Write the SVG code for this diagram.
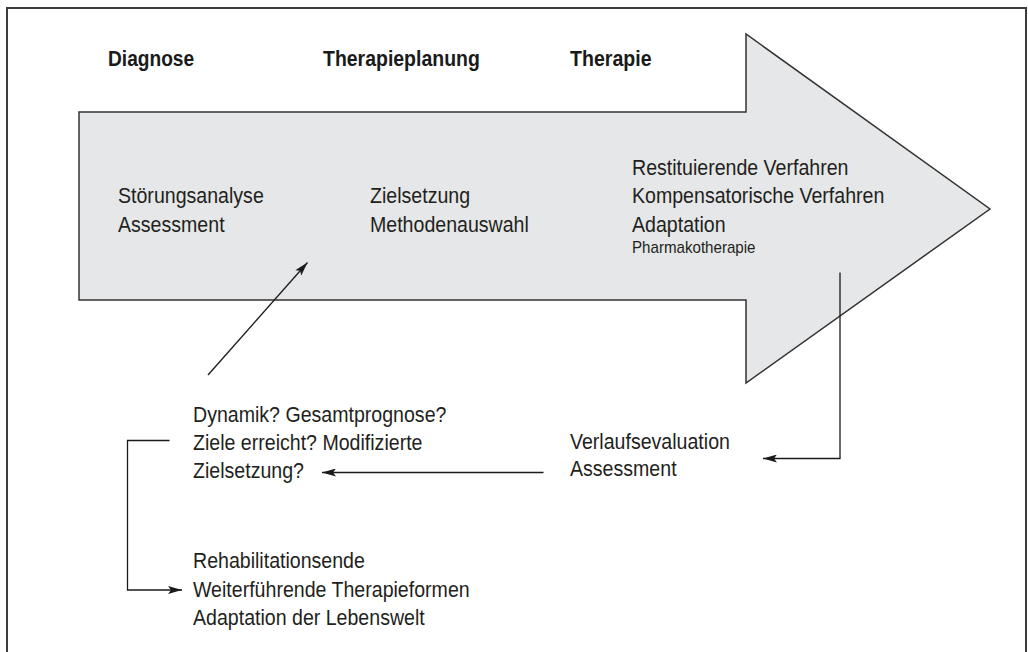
<svg xmlns="http://www.w3.org/2000/svg" width="1028" height="652" viewBox="0 0 1028 652">
  <style>
    .t { font-family: "Liberation Sans", Arial, sans-serif; font-size: 22px; fill: #231f20; }
    .h { font-family: "Liberation Sans", Arial, sans-serif; font-size: 22px; font-weight: bold; fill: #1a1a1a; }
    .s { font-size: 17px; }
    .c { fill: none; stroke: #1a1a1a; stroke-width: 1.3; }
  </style>
  <defs>
    <marker id="ah" markerUnits="userSpaceOnUse" markerWidth="14" markerHeight="8" refX="14" refY="4" orient="auto">
      <path d="M0,0 L14,4 L0,8 L3,4 z" fill="#1a1a1a"/>
    </marker>
  </defs>
  <rect x="0" y="0" width="1028" height="652" fill="#ffffff"/>
  <rect id="frame" x="7" y="8" width="1019" height="670" fill="none" stroke="#3c3c3c" stroke-width="2"/>

  <g id="bigarrow">
    <polygon points="79,112 746,112 746,34 990,209 746,383 746,300 79,300" fill="#e6e7e8" stroke="#333333" stroke-width="1.5" stroke-linejoin="miter"/>
  </g>

  <g id="heading-diagnose" transform="translate(108,66) scale(0.87,1)">
    <text class="h" x="0" y="0">Diagnose</text>
  </g>
  <g id="heading-therapieplanung" transform="translate(323,66) scale(0.885,1)">
    <text class="h" x="0" y="0">Therapieplanung</text>
  </g>
  <g id="heading-therapie" transform="translate(570,66) scale(0.89,1)">
    <text class="h" x="0" y="0">Therapie</text>
  </g>

  <g id="node-diagnose" transform="translate(118,203) scale(0.89,1)">
    <text class="t"><tspan x="0" y="0">Störungsanalyse</tspan><tspan x="0" y="29">Assessment</tspan></text>
  </g>
  <g id="node-planung" transform="translate(370,203) scale(0.89,1)">
    <text class="t"><tspan x="0" y="0">Zielsetzung</tspan><tspan x="0" y="29">Methodenauswahl</tspan></text>
  </g>
  <g id="node-therapie" transform="translate(632,175) scale(0.89,1)">
    <text class="t"><tspan x="0" y="0">Restituierende Verfahren</tspan><tspan x="0" y="28.5">Kompensatorische Verfahren</tspan><tspan x="0" y="57">Adaptation</tspan><tspan class="s" x="0" y="78">Pharmakotherapie</tspan></text>
  </g>
  <g id="node-fragen" transform="translate(193,421.5) scale(0.89,1)">
    <text class="t"><tspan x="0" y="0">Dynamik? Gesamtprognose?</tspan><tspan x="0" y="28.5">Ziele erreicht? Modifizierte</tspan><tspan x="0" y="57">Zielsetzung?</tspan></text>
  </g>
  <g id="node-verlauf" transform="translate(570,448.5) scale(0.89,1)">
    <text class="t"><tspan x="0" y="0">Verlaufsevaluation</tspan><tspan x="0" y="27.5">Assessment</tspan></text>
  </g>
  <g id="node-ende" transform="translate(193,568) scale(0.89,1)">
    <text class="t"><tspan x="0" y="0">Rehabilitationsende</tspan><tspan x="0" y="29">Weiterführende Therapieformen</tspan><tspan x="0" y="57.5">Adaptation der Lebenswelt</tspan></text>
  </g>

  <g id="connectors">
    <line class="c" x1="208" y1="375" x2="307.5" y2="262.5" marker-end="url(#ah)"/>
    <polyline class="c" points="840,272.5 840,458.5 763,458.5" marker-end="url(#ah)"/>
    <line class="c" x1="543.5" y1="472.5" x2="322" y2="472.5" marker-end="url(#ah)"/>
    <polyline class="c" points="169.5,440.5 127.5,440.5 127.5,590 182,590" marker-end="url(#ah)"/>
  </g>
</svg>
